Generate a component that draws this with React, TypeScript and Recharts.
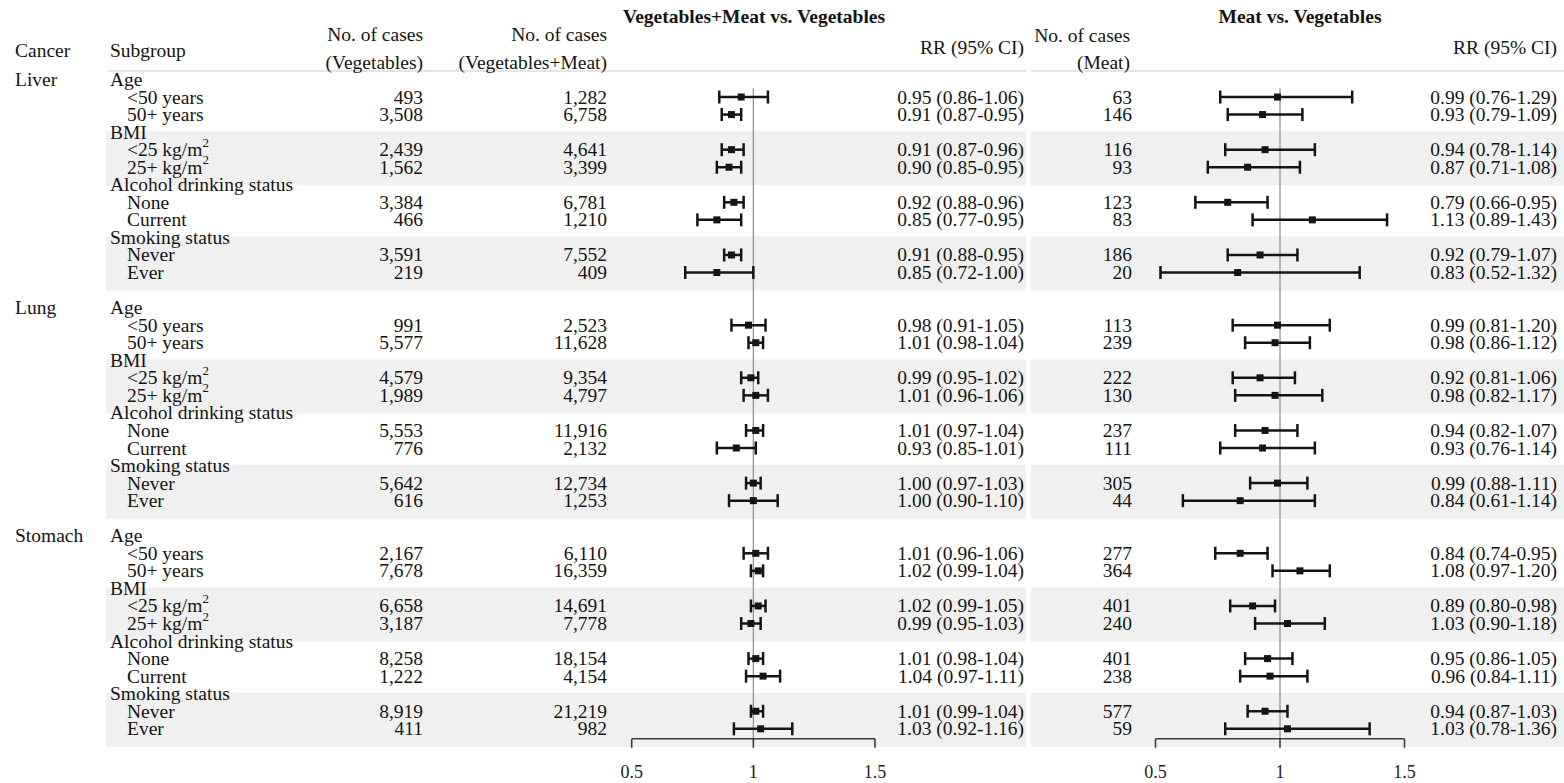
import React from 'react';
import { ScatterChart, Scatter, ErrorBar, XAxis, YAxis, ReferenceLine, ReferenceArea } from 'recharts';

const W = 1564;
const H = 783;
const FONT = '"Liberation Serif", "Times New Roman", Times, serif';
const INK = '#141414';
const FS = 19.5;

// ---------- data ----------
const cancers = ['Liver', 'Lung', 'Stomach'];
const groupNames = ['Age', 'BMI', 'Alcohol drinking status', 'Smoking status'];
const subgroupLabels = ['<50 years', '50+ years', '<25 kg/m²', '25+ kg/m²', 'None', 'Current', 'Never', 'Ever'];

// 8 subgroups per cancer: Liver, Lung, Stomach
const vegCases = [
  493, 3508, 2439, 1562, 3384, 466, 3591, 219,
  991, 5577, 4579, 1989, 5553, 776, 5642, 616,
  2167, 7678, 6658, 3187, 8258, 1222, 8919, 411,
];
const vegMeatCases = [
  1282, 6758, 4641, 3399, 6781, 1210, 7552, 409,
  2523, 11628, 9354, 4797, 11916, 2132, 12734, 1253,
  6110, 16359, 14691, 7778, 18154, 4154, 21219, 982,
];
const rrVegMeat = [
  0.95, 0.91, 0.91, 0.90, 0.92, 0.85, 0.91, 0.85,
  0.98, 1.01, 0.99, 1.01, 1.01, 0.93, 1.00, 1.00,
  1.01, 1.02, 1.02, 0.99, 1.01, 1.04, 1.01, 1.03,
];
const loVegMeat = [
  0.86, 0.87, 0.87, 0.85, 0.88, 0.77, 0.88, 0.72,
  0.91, 0.98, 0.95, 0.96, 0.97, 0.85, 0.97, 0.90,
  0.96, 0.99, 0.99, 0.95, 0.98, 0.97, 0.99, 0.92,
];
const hiVegMeat = [
  1.06, 0.95, 0.96, 0.95, 0.96, 0.95, 0.95, 1.00,
  1.05, 1.04, 1.02, 1.06, 1.04, 1.01, 1.03, 1.10,
  1.06, 1.04, 1.05, 1.03, 1.04, 1.11, 1.04, 1.16,
];
const meatCases = [
  63, 146, 116, 93, 123, 83, 186, 20,
  113, 239, 222, 130, 237, 111, 305, 44,
  277, 364, 401, 240, 401, 238, 577, 59,
];
const rrMeat = [
  0.99, 0.93, 0.94, 0.87, 0.79, 1.13, 0.92, 0.83,
  0.99, 0.98, 0.92, 0.98, 0.94, 0.93, 0.99, 0.84,
  0.84, 1.08, 0.89, 1.03, 0.95, 0.96, 0.94, 1.03,
];
const loMeat = [
  0.76, 0.79, 0.78, 0.71, 0.66, 0.89, 0.79, 0.52,
  0.81, 0.86, 0.81, 0.82, 0.82, 0.76, 0.88, 0.61,
  0.74, 0.97, 0.80, 0.90, 0.86, 0.84, 0.87, 0.78,
];
const hiMeat = [
  1.29, 1.09, 1.14, 1.08, 0.95, 1.43, 1.07, 1.32,
  1.20, 1.12, 1.06, 1.17, 1.07, 1.14, 1.11, 1.14,
  0.95, 1.20, 0.98, 1.18, 1.05, 1.11, 1.03, 1.36,
];
const axisTicks = [0.5, 1, 1.5];

// ---------- layout helpers ----------
const ROWS_PER_BLOCK = 13;
const Y_MIN = -0.5;
const Y_MAX = 37.57;
const M_TOP = 70.7;
const M_BOTTOM = 44.2;
const X_AXIS_H = 40;

const groupRow = (c: number, g: number) => c * ROWS_PER_BLOCK + g * 3;
const itemRow = (c: number, k: number) => c * ROWS_PER_BLOCK + Math.floor(k / 2) * 3 + 1 + (k % 2);

const fmtN = (n: number) => n.toLocaleString('en-US');
const fmtRR = (r: number, l: number, h: number) => `${r.toFixed(2)} (${l.toFixed(2)}-${h.toFixed(2)})`;

type TableRow = { x: number; y: number; cancer?: string; group?: string; item?: string; idx?: number };
const tableRows: TableRow[] = [];
cancers.forEach((cancer, c) => {
  groupNames.forEach((g, gi) => {
    tableRows.push({ x: 0, y: groupRow(c, gi), group: g, cancer: gi === 0 ? cancer : undefined });
    for (let j = 0; j < 2; j++) {
      const k = gi * 2 + j;
      tableRows.push({ x: 0, y: itemRow(c, k), item: subgroupLabels[k], idx: c * 8 + k });
    }
  });
});

const bands: { y1: number; y2: number }[] = [];
cancers.forEach((_, c) => {
  [1, 3].forEach((gi) => {
    bands.push({ y1: groupRow(c, gi) - 0.05, y2: groupRow(c, gi) + 2 + 1.03 });
  });
});

const panel1Data = vegCases.map((_, i) => ({
  x: rrVegMeat[i],
  y: itemRow(Math.floor(i / 8), i % 8),
  err: [rrVegMeat[i] - loVegMeat[i], hiVegMeat[i] - rrVegMeat[i]],
}));
const panel2Data = vegCases.map((_, i) => ({
  x: rrMeat[i],
  y: itemRow(Math.floor(i / 8), i % 8),
  err: [rrMeat[i] - loMeat[i], hiMeat[i] - rrMeat[i]],
}));

// ---------- renderers ----------
const LabelText = ({ x, y, text }: { x: number; y: number; text: string }) => {
  const parts = text.split('²');
  return (
    <text x={x} y={y} dominantBaseline="central" fontFamily={FONT} fontSize={FS} fill={INK}>
      {parts[0]}
      {parts.length > 1 ? (
        <tspan dy={-8} fontSize={13}>2</tspan>
      ) : null}
    </text>
  );
};

const RText = ({ x, y, text }: { x: number; y: number; text: string }) => (
  <text x={x} y={y} textAnchor="end" dominantBaseline="central" fontFamily={FONT} fontSize={FS} fill={INK}>
    {text}
  </text>
);

const TableRowShape = (props: any) => {
  const r: TableRow | undefined = props?.payload;
  if (!r || props.cy == null) return null;
  const y = props.cy;
  if (r.group) {
    return (
      <g>
        {r.cancer ? <LabelText x={15} y={y} text={r.cancer} /> : null}
        <LabelText x={110} y={y} text={r.group} />
      </g>
    );
  }
  const i = r.idx as number;
  return (
    <g>
      <LabelText x={127} y={y} text={r.item as string} />
      <RText x={423} y={y} text={fmtN(vegCases[i])} />
      <RText x={607} y={y} text={fmtN(vegMeatCases[i])} />
      <RText x={1024} y={y} text={fmtRR(rrVegMeat[i], loVegMeat[i], hiVegMeat[i])} />
      <RText x={1132} y={y} text={fmtN(meatCases[i])} />
      <RText x={1557} y={y} text={fmtRR(rrMeat[i], loMeat[i], hiMeat[i])} />
    </g>
  );
};

const SquareShape = (p: any) => {
  if (p.cx == null || p.cy == null) return null;
  return <rect x={p.cx - 3.5} y={p.cy - 3.5} width={7} height={7} fill={INK} />;
};

const layerStyle: React.CSSProperties = { position: 'absolute', left: 0, top: 0 };

const Background = () => (
  <ScatterChart
    width={W}
    height={H}
    margin={{ top: M_TOP, bottom: M_BOTTOM, left: 0, right: 0 }}
    style={layerStyle}
  >
    <XAxis type="number" dataKey="x" domain={[0, W]} hide allowDataOverflow />
    <YAxis type="number" dataKey="y" domain={[Y_MIN, Y_MAX]} reversed hide allowDataOverflow />
    {bands.map((b, i) => (
      <ReferenceArea key={`a${i}`} x1={106} x2={1026} y1={b.y1} y2={b.y2} fill="#f0f0f0" fillOpacity={1} stroke="none" ifOverflow="visible" />
    ))}
    {bands.map((b, i) => (
      <ReferenceArea key={`b${i}`} x1={1031} x2={W} y1={b.y1} y2={b.y2} fill="#f0f0f0" fillOpacity={1} stroke="none" ifOverflow="visible" />
    ))}
    <ReferenceLine segment={[{ x: 108, y: -0.48 }, { x: 1026, y: -0.48 }]} stroke="#e4e4e4" strokeWidth={2} ifOverflow="visible" />
    <ReferenceLine segment={[{ x: 1031, y: -0.48 }, { x: W, y: -0.48 }]} stroke="#e4e4e4" strokeWidth={2} ifOverflow="visible" />
    <Scatter data={tableRows} isAnimationActive={false} shape={TableRowShape} />
  </ScatterChart>
);

const Panel = ({ data, left, right }: { data: any[]; left: number; right: number }) => (
  <ScatterChart
    width={W}
    height={H}
    margin={{ top: M_TOP, bottom: M_BOTTOM - X_AXIS_H, left, right }}
    style={layerStyle}
  >
    <XAxis
      type="number"
      dataKey="x"
      domain={[0.5, 1.5]}
      ticks={axisTicks}
      allowDataOverflow
      height={X_AXIS_H}
      tickSize={9}
      tickMargin={17}
      axisLine={{ stroke: '#3c3c3c', strokeWidth: 1.6 }}
      tickLine={{ stroke: '#3c3c3c', strokeWidth: 1.6 }}
      tick={{ fontSize: 18, fill: '#222', fontFamily: FONT }}
    />
    <YAxis type="number" dataKey="y" domain={[Y_MIN, Y_MAX]} reversed hide allowDataOverflow />
    <ReferenceLine segment={[{ x: 1, y: 0.5 }, { x: 1, y: Y_MAX }]} stroke="#8c8c8c" strokeWidth={1.2} />
    <Scatter data={data} isAnimationActive={false} shape={SquareShape}>
      <ErrorBar dataKey="err" direction="x" width={6.5} strokeWidth={2.5} stroke={INK} />
    </Scatter>
  </ScatterChart>
);

const Header = () => (
  <svg width={W} height={H} style={{ ...layerStyle, pointerEvents: 'none' }} fontFamily={FONT} fill={INK}>
    <text x={754} y={16} textAnchor="middle" dominantBaseline="central" fontSize={19.5} fontWeight="bold">
      Vegetables+Meat vs. Vegetables
    </text>
    <text x={1300} y={16} textAnchor="middle" dominantBaseline="central" fontSize={19.5} fontWeight="bold">
      Meat vs. Vegetables
    </text>
    <text x={15} y={50} dominantBaseline="central" fontSize={FS}>Cancer</text>
    <text x={110} y={50} dominantBaseline="central" fontSize={FS}>Subgroup</text>
    <text x={423} y={34} textAnchor="end" dominantBaseline="central" fontSize={FS}>No. of cases</text>
    <text x={423} y={62} textAnchor="end" dominantBaseline="central" fontSize={FS}>(Vegetables)</text>
    <text x={607} y={34} textAnchor="end" dominantBaseline="central" fontSize={FS}>No. of cases</text>
    <text x={607} y={62} textAnchor="end" dominantBaseline="central" fontSize={FS}>(Vegetables+Meat)</text>
    <text x={1024} y={47} textAnchor="end" dominantBaseline="central" fontSize={FS}>RR (95% CI)</text>
    <text x={1130} y={35} textAnchor="end" dominantBaseline="central" fontSize={FS}>No. of cases</text>
    <text x={1130} y={62} textAnchor="end" dominantBaseline="central" fontSize={FS}>(Meat)</text>
    <text x={1557} y={47} textAnchor="end" dominantBaseline="central" fontSize={FS}>RR (95% CI)</text>
  </svg>
);

export default function App() {
  return (
    <div style={{ position: 'absolute', left: 0, top: 0, width: W, height: H, background: '#fff', overflow: 'hidden' }}>
      <Background />
      <Panel data={panel1Data} left={631.7} right={W - 875} />
      <Panel data={panel2Data} left={1155.5} right={W - 1404.5} />
      <Header />
    </div>
  );
}
